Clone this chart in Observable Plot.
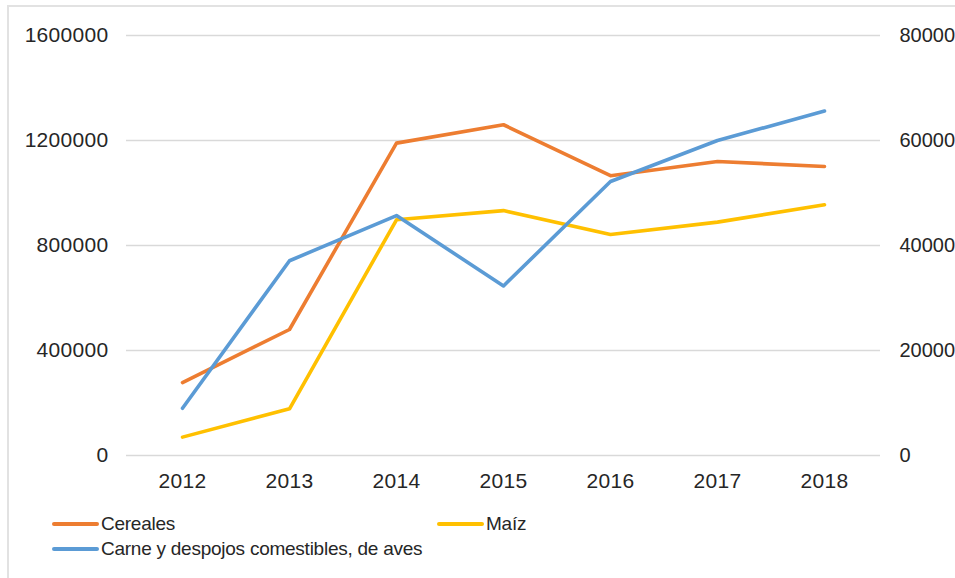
<!DOCTYPE html>
<html><head><meta charset="utf-8">
<script src="https://cdn.jsdelivr.net/npm/d3@7"></script>
<script src="https://cdn.jsdelivr.net/npm/@observablehq/plot@0.6"></script>
<style>
html,body{margin:0;padding:0;background:#fff;overflow:hidden;width:955px;height:578px}
#wrap{position:relative;width:955px;height:578px;font-family:"Liberation Sans",Arial,sans-serif;overflow:hidden}
#frame{position:absolute;left:7px;top:5px;width:980px;height:620px;border:2px solid #e2e2e2;box-sizing:border-box}
#chart{position:absolute;left:0;top:0}
#chart svg text{letter-spacing:0.3px}
#chart svg g.right-axis text{letter-spacing:0px;font-size:20px}
.leg{position:absolute;display:flex;align-items:center;height:24px;font-size:19px;letter-spacing:-0.25px;color:#262626;white-space:nowrap}
.sw{width:47px;height:4px;border-radius:2px;margin-right:2px}
</style></head><body>
<div id="wrap"><div id="frame"></div><div id="chart"></div><div id="legend"></div></div>
<script>
// Data
const years = [2012, 2013, 2014, 2015, 2016, 2017, 2018];
const cereales = [278000, 480000, 1190000, 1260000, 1066000, 1120000, 1101000];
const maiz = [70000, 178000, 898000, 933000, 842000, 889000, 955000];
const carne = [9000, 37100, 45700, 32300, 52200, 60000, 65600]; // secondary (right) axis
const seriesNames = ["Cereales", "Maíz", "Carne y despojos comestibles, de aves"];
const seriesColors = ["#ED7D31", "#FFC000", "#5B9BD5"];
const leftTicks = [0, 400000, 800000, 1200000, 1600000];
const rightTicks = [0, 20000, 40000, 60000, 80000];

const ratio = leftTicks[leftTicks.length - 1] / rightTicks[rightTicks.length - 1];
const rows = years.flatMap((y, i) => [
  {year: y, serie: seriesNames[0], v: cereales[i]},
  {year: y, serie: seriesNames[1], v: maiz[i]},
  {year: y, serie: seriesNames[2], v: carne[i] * ratio}
]);

const chart = Plot.plot({
  width: 955,
  height: 500,
  marginTop: 35,
  marginBottom: 45,
  marginLeft: 126,
  marginRight: 75,
  style: {fontFamily: "'Liberation Sans', Arial, sans-serif", fontSize: "21px", color: "#262626", background: "transparent"},
  x: {type: "point", domain: years, padding: 0.5},
  y: {domain: [0, leftTicks[leftTicks.length - 1]]},
  color: {domain: seriesNames, range: seriesColors},
  marks: [
    Plot.gridY(leftTicks, {stroke: "#d9d9d9", strokeOpacity: 1, strokeWidth: 1.6}),
    Plot.axisY(leftTicks, {anchor: "left", tickSize: 0, tickPadding: 18, tickFormat: d => String(d), label: null}),
    Plot.axisY(rightTicks.map(d => d * ratio), {anchor: "right", tickSize: 0, tickPadding: 19, tickFormat: d => String(Math.round(d / ratio)), label: null, className: "right-axis", fontSize: 20}),
    Plot.axisX({tickSize: 0, tickPadding: 18, tickFormat: d => String(d), label: null}),
    Plot.line(rows, {x: "year", y: "v", z: "serie", stroke: "serie", strokeWidth: 3.6, strokeLinecap: "round", strokeLinejoin: "round"})
  ]
});
document.getElementById("chart").appendChild(chart);

// Legend
const legPos = [{left: 52, top: 512}, {left: 437, top: 512}, {left: 52, top: 537}];
const legend = document.getElementById("legend");
seriesNames.forEach((name, i) => {
  const item = document.createElement("div");
  item.className = "leg";
  item.style.left = legPos[i].left + "px";
  item.style.top = legPos[i].top + "px";
  const sw = document.createElement("span");
  sw.className = "sw";
  sw.style.background = seriesColors[i];
  const t = document.createElement("span");
  t.textContent = name;
  item.appendChild(sw);
  item.appendChild(t);
  legend.appendChild(item);
});
</script>
</body></html>
